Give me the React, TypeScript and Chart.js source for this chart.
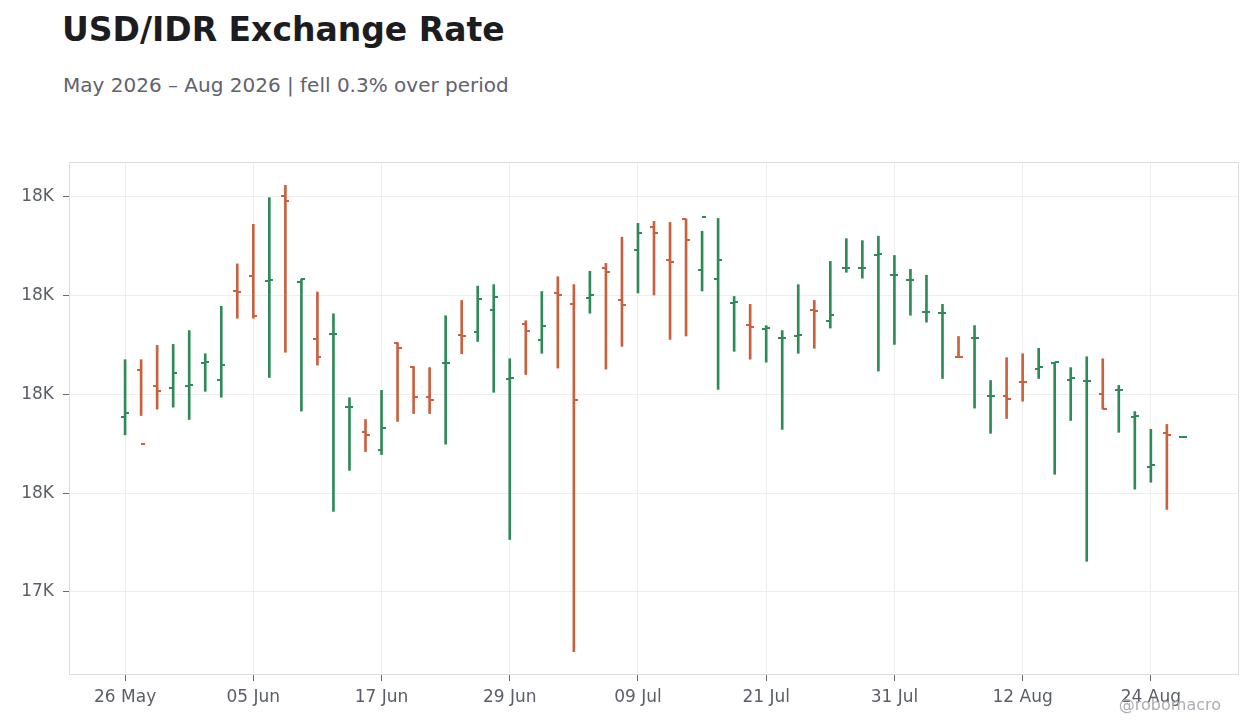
import { useEffect, useRef } from "react";
import { Chart, registerables } from "chart.js";

Chart.register(...registerables);

// trading days, 26 May – 26 Aug 2026
const dates = [
  "26 May", "27 May", "28 May", "29 May",
  "01 Jun", "02 Jun", "03 Jun", "04 Jun", "05 Jun", "08 Jun", "09 Jun", "10 Jun", "11 Jun", "12 Jun",
  "15 Jun", "16 Jun", "17 Jun", "18 Jun", "19 Jun", "22 Jun", "23 Jun", "24 Jun", "25 Jun", "26 Jun",
  "29 Jun", "30 Jun",
  "01 Jul", "02 Jul", "03 Jul", "06 Jul", "07 Jul", "08 Jul", "09 Jul", "10 Jul", "13 Jul", "14 Jul",
  "15 Jul", "16 Jul", "17 Jul", "20 Jul", "21 Jul", "22 Jul", "23 Jul", "24 Jul", "27 Jul", "28 Jul",
  "29 Jul", "30 Jul", "31 Jul",
  "03 Aug", "04 Aug", "05 Aug", "06 Aug", "07 Aug", "10 Aug", "11 Aug", "12 Aug", "13 Aug", "14 Aug",
  "17 Aug", "18 Aug", "19 Aug", "20 Aug", "21 Aug", "24 Aug", "25 Aug", "26 Aug",
];

const opens = [
  17755, 17850, 17816, 17812, 17817, 17864, 17828, 18009, 18039, 18030,
  18201, 18028, 17911, 17922, 17774, 17723, 17687, 17904, 17855, 17795,
  17863, 17920, 17926, 17970, 17831, 17943, 17909, 18005, 17982, 17995,
  18055, 17990, 18093, 18138, 18072, 18155, 18051, 18033, 17985, 17940,
  17933, 17913, 17919, 17970, 17948, 18055, 18055, 18082, 18041, 18031,
  17966, 17964, 17876, 17913, 17796, 17796, 17825, 17852, 17863, 17828,
  17826, 17800, 17808, 17755, 17652, 17721, 17713,
];

const highs = [
  17870, 17870, 17899, 17901, 17929, 17882, 17978, 18064, 18144, 18198,
  18223, 18033, 18007, 17963, 17793, 17749, 17808, 17904, 17856, 17854,
  17959, 17990, 18019, 18022, 17872, 17949, 18008, 18038, 18022, 18049,
  18065, 18118, 18146, 18150, 18148, 18155, 18130, 18156, 17998, 17982,
  17939, 17929, 18022, 17990, 18069, 18115, 18111, 18120, 18081, 18053,
  18041, 17982, 17917, 17939, 17828, 17874, 17882, 17893, 17865, 17854,
  17876, 17872, 17818, 17765, 17729, 17739, 17713,
];

const lows = [
  17718, 17757, 17770, 17774, 17749, 17806, 17794, 17954, 17954, 17834,
  17885, 17766, 17859, 17563, 17646, 17684, 17678, 17745, 17761, 17761,
  17699, 17882, 17907, 17804, 17506, 17840, 17883, 17853, 17279, 17964,
  17851, 17897, 18005, 18001, 17911, 17918, 18009, 17810, 17887, 17871,
  17865, 17729, 17883, 17893, 17934, 18047, 18035, 17847, 17901, 17960,
  17946, 17832, 17875, 17772, 17721, 17751, 17786, 17832, 17638, 17747,
  17462, 17770, 17723, 17608, 17622, 17567, 17713,
];

const closes = [
  17763, 17700, 17806, 17843, 17818, 17866, 17859, 18007, 17958, 18032,
  18192, 18033, 17876, 17923, 17775, 17717, 17731, 17893, 17795, 17789,
  17864, 17917, 17992, 17997, 17832, 17928, 17938, 18001, 17789, 18001,
  18047, 17980, 18126, 18126, 18067, 18112, 18159, 18072, 17986, 17936,
  17934, 17914, 17920, 17968, 17960, 18056, 18056, 18083, 18042, 18032,
  17967, 17965, 17875, 17914, 17797, 17791, 17824, 17855, 17865, 17832,
  17827, 17770, 17809, 17757, 17656, 17717, 17713,
];

// y ticks (all render as "18K" / "17K")
const yTicks = [17400, 17600, 17800, 18000, 18200];

const UP = "#2e8b57";
const DOWN = "#c9613e";
const FONT = "'DejaVu Sans', sans-serif";

const barColor = (i: number) => (closes[i] >= opens[i] ? UP : DOWN);

// open tick to the left, close tick to the right
const ohlcTicks = {
  id: "ohlcTicks",
  afterDatasetsDraw(chart: any) {
    const { ctx, scales } = chart;
    const x = scales.x;
    const y = scales.y;
    ctx.save();
    ctx.lineWidth = 2;
    opens.forEach((o, i) => {
      const px = Math.round(x.getPixelForValue(i));
      const yo = Math.round(y.getPixelForValue(o));
      const yc = Math.round(y.getPixelForValue(closes[i]));
      ctx.strokeStyle = barColor(i);
      ctx.beginPath();
      ctx.moveTo(px - 4, yo);
      ctx.lineTo(px, yo);
      ctx.moveTo(px, yc);
      ctx.lineTo(px + 4, yc);
      ctx.stroke();
    });
    ctx.restore();
  },
};

const frame = {
  id: "frame",
  beforeDatasetsDraw(chart: any) {
    const { ctx, chartArea: a } = chart;
    ctx.save();
    ctx.strokeStyle = "#dddddd";
    ctx.lineWidth = 1;
    ctx.strokeRect(a.left + 0.5, a.top + 0.5, a.right - a.left - 1, a.bottom - a.top - 1);
    ctx.restore();
  },
};

export default function App() {
  const chartRef = useRef<HTMLCanvasElement>(null);
  const chartInstance = useRef<Chart | null>(null);

  useEffect(() => {
    if (!chartRef.current) return;
    if (chartInstance.current) chartInstance.current.destroy();

    const ctx = chartRef.current.getContext("2d");
    if (!ctx) return;

    const lo = Math.min(...lows);
    const hi = Math.max(...highs);
    const pad = (hi - lo) * 0.05;

    chartInstance.current = new Chart(ctx, {
      type: "bar",
      data: {
        datasets: [
          {
            label: "USD/IDR",
            data: dates.map((_, i) => ({ x: i, y: [lows[i], highs[i]] })) as any,
            backgroundColor: dates.map((_, i) => barColor(i)),
            barThickness: 2,
            borderWidth: 0,
          },
        ],
      },
      options: {
        responsive: true,
        maintainAspectRatio: false,
        animation: false,
        layout: { padding: { top: 22, right: 21, left: 0, bottom: 0 } },
        plugins: {
          legend: { display: false },
          tooltip: { enabled: false },
        },
        scales: {
          x: {
            type: "linear",
            min: -3.5,
            max: 69.5,
            offset: false,
            grid: {
              offset: false,
              color: "#eeeeee",
              tickColor: "#666a70",
              tickLength: 6,
            },
            border: { display: false },
            ticks: {
              stepSize: 8,
              includeBounds: false,
              padding: 6,
              color: "#5a5e66",
              font: { family: FONT, size: 17 },
              callback: (v: any) => dates[v] ?? "",
            },
            afterFit: (s: any) => {
              s.height = 53;
            },
          },
          y: {
            min: lo - pad,
            max: hi + pad,
            grid: {
              color: "#eeeeee",
              tickColor: "#666a70",
              tickLength: 6,
            },
            border: { display: false },
            ticks: {
              padding: 9,
              color: "#5a5e66",
              font: { family: FONT, size: 17 },
              callback: (v: any) => (Number(v) / 1000).toFixed(0) + "K",
            },
            afterBuildTicks: (s: any) => {
              s.ticks = yTicks.map((value) => ({ value }));
            },
            afterFit: (s: any) => {
              s.width = 69;
            },
          },
        },
      },
      plugins: [frame, ohlcTicks],
    });

    return () => {
      if (chartInstance.current) {
        chartInstance.current.destroy();
        chartInstance.current = null;
      }
    };
  }, []);

  return (
    <div style={{ position: "absolute", left: 0, top: 0, width: 1260, height: 728, background: "#fff", fontFamily: FONT }}>
      <div style={{ position: "absolute", left: 62, top: 13, fontSize: 33, lineHeight: "33px", fontWeight: 700, color: "#1c1c21", whiteSpace: "nowrap" }}>
        USD/IDR Exchange Rate
      </div>
      <div style={{ position: "absolute", left: 63, top: 75, fontSize: 20, lineHeight: "20px", color: "#5f6270", whiteSpace: "nowrap" }}>
        May 2026 – Aug 2026 | fell 0.3% over period
      </div>
      <div style={{ position: "absolute", left: 0, top: 140, width: 1260, height: 588 }}>
        <canvas ref={chartRef} />
      </div>
      <div style={{ position: "absolute", right: 39, top: 697, fontSize: 16, lineHeight: "16px", color: "#adadb3", whiteSpace: "nowrap" }}>
        @robomacro
      </div>
    </div>
  );
}
